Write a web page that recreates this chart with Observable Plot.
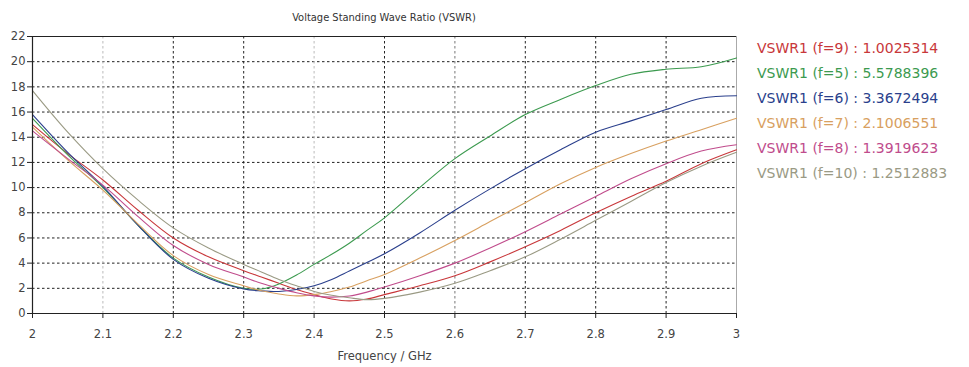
<!DOCTYPE html>
<html>
<head>
<meta charset="utf-8">
<script src="https://cdn.jsdelivr.net/npm/d3@7"></script>
<script src="https://cdn.jsdelivr.net/npm/@observablehq/plot@0.6"></script>
<style>
  html, body { margin: 0; padding: 0; background: #fff; }
  #wrap { position: relative; width: 969px; height: 367px; font-family: "DejaVu Sans", sans-serif; }
  #title { position: absolute; left: 32px; width: 704px; top: 11px; text-align: center; font-size: 11px; color: #333; font-family: "DejaVu Sans Condensed", "DejaVu Sans", sans-serif; }
  #chart { position: absolute; left: 0; top: 28px; }
  #legend { position: absolute; left: 757px; top: 36px; font-size: 14px; line-height: 25px; white-space: nowrap; }
</style>
</head>
<body>
<div id="wrap">
  <div id="title">Voltage Standing Wave Ratio (VSWR)</div>
  <div id="chart"></div>
  <div id="legend"></div>
</div>
<script>
// Frequency samples (GHz)
const freq = [2.00,2.05,2.10,2.15,2.20,2.25,2.30,2.325,2.35,2.375,2.40,2.425,2.45,2.475,2.50,2.55,2.60,2.65,2.70,2.75,2.80,2.85,2.90,2.95,3.00];

// VSWR series
const vswrF9  = [15.0,12.7,10.6,8.2,6.0,4.5,3.4,2.9,2.4,1.9,1.5,1.15,1.0,1.15,1.5,2.2,3.0,4.1,5.3,6.6,8.0,9.3,10.5,11.9,13.0];
const vswrF5  = [15.5,12.6,10.0,7.0,4.4,2.9,2.0,1.95,2.35,3.05,3.9,4.7,5.58,6.6,7.6,10.0,12.3,14.1,15.8,17.0,18.1,19.0,19.4,19.6,20.3];
const vswrF6  = [15.8,12.8,10.1,7.0,4.3,2.8,1.95,1.8,1.75,1.9,2.2,2.7,3.37,4.05,4.75,6.4,8.2,9.9,11.5,13.0,14.4,15.3,16.2,17.1,17.3];
const vswrF7  = [14.8,12.2,9.8,7.1,4.6,3.1,2.2,1.8,1.55,1.4,1.5,1.75,2.1,2.6,3.1,4.4,5.8,7.3,8.8,10.3,11.6,12.7,13.7,14.6,15.5];
const vswrF8  = [14.5,12.3,10.2,7.7,5.4,3.9,2.9,2.4,2.0,1.65,1.4,1.3,1.39,1.7,2.1,3.0,4.0,5.2,6.5,7.9,9.3,10.7,11.9,12.9,13.4];
const vswrF10 = [17.7,14.4,11.5,9.0,6.8,5.2,3.9,3.3,2.7,2.2,1.75,1.45,1.25,1.1,1.2,1.7,2.4,3.4,4.5,5.9,7.4,8.9,10.4,11.7,12.8];

// Legend entries (order as in the picture)
const seriesNames  = ["VSWR1 (f=9)", "VSWR1 (f=5)", "VSWR1 (f=6)", "VSWR1 (f=7)", "VSWR1 (f=8)", "VSWR1 (f=10)"];
const markerValues = ["1.0025314", "5.5788396", "3.3672494", "2.1006551", "1.3919623", "1.2512883"];
const seriesColors = ["#c8373a", "#3c9a4f", "#2a3f8c", "#d8a060", "#c04c8c", "#9a9a84"];
const seriesValues = [vswrF9, vswrF5, vswrF6, vswrF7, vswrF8, vswrF10];

// Tick values
const xTicks = [2, 2.1, 2.2, 2.3, 2.4, 2.5, 2.6, 2.7, 2.8, 2.9, 3];
const yTicks = [0, 2, 4, 6, 8, 10, 12, 14, 16, 18, 20, 22];
const xGridDark  = [2.2, 2.3, 2.5, 2.7, 2.8, 2.9];
const xGridMid   = [2.6];
const xGridLight = [2.1, 2.4];
const yGrid = [2, 4, 6, 8, 10, 12, 14, 16, 18, 20];

const rows = [];
seriesValues.forEach((vals, i) => {
  vals.forEach((v, j) => rows.push({series: seriesNames[i], f: freq[j], v}));
});

const chart = Plot.plot({
  width: 969,
  height: 339,
  marginLeft: 32,
  marginRight: 233,
  marginTop: 8,
  marginBottom: 54,
  style: {fontFamily: "DejaVu Sans, sans-serif", fontSize: "11.5px", color: "#444", background: "#fff"},
  x: {domain: [2, 3]},
  y: {domain: [0, 22]},
  color: {domain: seriesNames, range: seriesColors},
  marks: [
    Plot.ruleY(yGrid, {stroke: "#222", strokeWidth: 1, strokeDasharray: "2.5,2.5"}),
    Plot.ruleX(xGridDark, {stroke: "#222", strokeWidth: 1, strokeDasharray: "2.5,2.5"}),
    Plot.ruleX(xGridMid, {stroke: "#777", strokeWidth: 1, strokeDasharray: "2.5,2.5"}),
    Plot.ruleX(xGridLight, {stroke: "#bbb", strokeWidth: 1, strokeDasharray: "2.5,2.5"}),
    Plot.ruleY([22], {stroke: "#222", strokeWidth: 1}),
    Plot.ruleX([3], {stroke: "#aaa", strokeWidth: 1}),
    Plot.axisX({ticks: xTicks, tickFormat: d => String(+d.toFixed(1)), tickSize: 5, tickPadding: 11, stroke: "#222", label: "Frequency / GHz", labelAnchor: "center", labelArrow: "none", labelOffset: 46}),
    Plot.axisY({ticks: yTicks, tickFormat: d => String(d), tickSize: 5, tickPadding: 2, stroke: "#222", label: null}),
    Plot.line(rows, {x: "f", y: "v", z: "series", stroke: "series", strokeWidth: 1.1, curve: "catmull-rom"}),
    Plot.ruleX([2], {stroke: "#222", strokeWidth: 1.2}),
    Plot.ruleY([0], {stroke: "#222", strokeWidth: 1.2})
  ]
});
document.getElementById("chart").appendChild(chart);

const legend = document.getElementById("legend");
seriesNames.forEach((name, i) => {
  const div = document.createElement("div");
  div.textContent = name + " : " + markerValues[i];
  div.style.color = seriesColors[i];
  legend.appendChild(div);
});
</script>
</body>
</html>
